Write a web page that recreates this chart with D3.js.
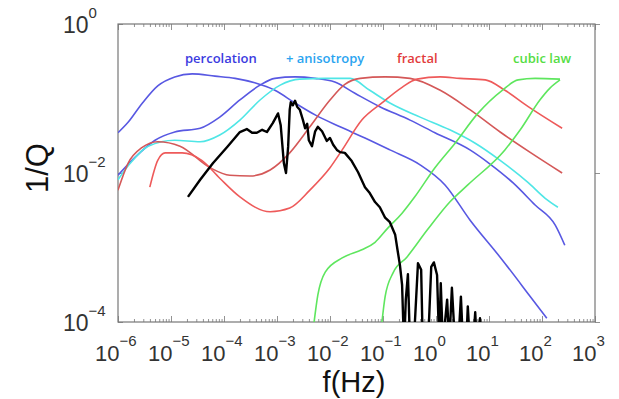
<!DOCTYPE html>
<html>
<head>
<meta charset="utf-8">
<script src="https://cdn.jsdelivr.net/npm/d3@7"></script>
<style>
  body { margin: 0; background: #fff; }
  svg { display: block; }
</style>
</head>
<body>
<div id="chart"></div>
<script>
// values as [log10 f(Hz), log10 1/Q]
const percolationEarly = [
  [-6, -1.46], [-5.81, -1.32], [-5.55, -1.07], [-5.25, -0.83], [-4.93, -0.71], [-4.6, -0.67],
  [-4.17, -0.70], [-3.79, -0.73], [-3.42, -0.79], [-3.04, -0.89], [-2.66, -1.06], [-2.28, -1.22],
  [-1.81, -1.38], [-1.34, -1.53], [-0.87, -1.69], [-0.3, -1.89], [0.17, -2.16], [0.64, -2.63],
  [1.21, -3.13], [1.77, -3.65], [2.09, -3.95]
]
const percolationLate = [
  [-6, -2.03], [-5.68, -1.79], [-5.3, -1.56], [-4.93, -1.45], [-4.45, -1.4], [-4.08, -1.25],
  [-3.7, -1.02], [-3.32, -0.82], [-3.04, -0.73], [-2.66, -0.71], [-2.28, -0.73], [-1.91, -0.78],
  [-1.53, -0.93], [-1.06, -1.11], [-0.49, -1.29], [-0.02, -1.46], [0.64, -1.69], [1.02, -1.88],
  [1.45, -2.13], [1.87, -2.43], [2.25, -2.7], [2.43, -2.97]
]
const anisotropy = [
  [-6, -2.09], [-5.77, -1.87], [-5.43, -1.64], [-4.93, -1.56], [-4.45, -1.58], [-4.08, -1.49],
  [-3.7, -1.29], [-3.32, -1.02], [-2.94, -0.82], [-2.57, -0.74], [-2.09, -0.73], [-1.62, -0.73],
  [-1.25, -0.89], [-0.87, -1.06], [-0.3, -1.25], [0.26, -1.42], [0.74, -1.6], [1.21, -1.83],
  [1.74, -2.13], [2.06, -2.34], [2.3, -2.46]
]
const fractalA = [
  [-6, -2.23], [-5.81, -1.87], [-5.55, -1.66], [-5.25, -1.58], [-4.83, -1.64], [-4.26, -1.93],
  [-3.89, -2.03], [-3.51, -2.04], [-3.13, -1.96], [-2.76, -1.73], [-2.38, -1.38], [-2.0, -1.02],
  [-1.72, -0.81], [-1.43, -0.73], [-0.96, -0.71], [-0.49, -0.73], [0.08, -0.89], [0.64, -1.15],
  [1.21, -1.45], [1.77, -1.72], [2.38, -2.0]
]
const fractalB = [
  [-5.4, -2.19], [-5.25, -1.83], [-5.11, -1.73], [-4.79, -1.73], [-4.42, -1.83], [-4.08, -2.07],
  [-3.7, -2.32], [-3.13, -2.52], [-2.76, -2.47], [-2.38, -2.23], [-2.0, -1.93], [-1.77, -1.69],
  [-1.4, -1.29], [-1.02, -1.06], [-0.64, -0.85], [-0.36, -0.74], [0.08, -0.71], [0.45, -0.73],
  [0.93, -0.75], [1.3, -0.89], [1.74, -1.11], [2.38, -1.4]
]
const cubicA = [
  [-2.3, -4.0], [-2.23, -3.64], [-2.09, -3.33], [-1.77, -3.14], [-1.4, -3.03], [-1.15, -2.93],
  [-0.91, -2.74], [-0.64, -2.54], [-0.4, -2.32], [-0.02, -1.93], [0.36, -1.6], [0.79, -1.2],
  [1.25, -0.89], [1.55, -0.75], [1.87, -0.73], [2.34, -0.74]
]
const cubicB = [
  [-1.02, -4.0], [-0.96, -3.66], [-0.81, -3.34], [-0.55, -3.13], [-0.17, -2.77], [0.26, -2.39],
  [0.6, -2.16], [1.3, -1.69], [1.59, -1.42], [1.96, -1.02], [2.15, -0.86], [2.34, -0.75]
]
const measured = [
  [-4.68, -2.32], [-4.45, -2.09], [-4.21, -1.87], [-3.94, -1.65], [-3.7, -1.45], [-3.57, -1.41],
  [-3.47, -1.46], [-3.38, -1.46], [-3.28, -1.42], [-3.19, -1.45], [-3.08, -1.33], [-2.98, -1.2],
  [-2.93, -1.36], [-2.87, -1.87], [-2.83, -2.0], [-2.79, -1.65], [-2.76, -1.15], [-2.74, -1.05],
  [-2.7, -1.09], [-2.66, -1.03], [-2.62, -1.11], [-2.57, -1.15], [-2.51, -1.29], [-2.47, -1.4],
  [-2.43, -1.34], [-2.4, -1.56], [-2.34, -1.64], [-2.28, -1.44], [-2.23, -1.38], [-2.15, -1.44],
  [-2.06, -1.57], [-2.0, -1.53], [-1.94, -1.62], [-1.87, -1.69], [-1.81, -1.72], [-1.72, -1.73],
  [-1.59, -1.84], [-1.47, -1.99], [-1.34, -2.19], [-1.25, -2.27], [-1.15, -2.39], [-1.06, -2.46],
  [-0.96, -2.6], [-0.87, -2.66], [-0.77, -2.83], [-0.72, -3.06], [-0.68, -3.24], [-0.64, -3.5],
  [-0.62, -3.95], [-0.6, -4.3], [-0.57, -3.7], [-0.53, -3.36], [-0.49, -4.3], [-0.42, -4.3],
  [-0.34, -3.21], [-0.28, -3.3], [-0.25, -4.3], [-0.15, -4.3], [-0.09, -3.26], [-0.04, -3.2],
  [0.02, -3.37], [0.06, -4.3], [0.09, -3.48], [0.13, -4.3], [0.21, -3.7], [0.25, -4.3],
  [0.3, -3.54], [0.36, -4.3], [0.42, -4.3], [0.47, -3.66], [0.51, -4.3], [0.57, -4.3],
  [0.6, -3.79], [0.64, -4.3], [0.7, -4.3], [0.74, -3.87], [0.77, -4.3], [0.83, -3.95], [0.87, -4.3]
]

const xDecades = [-6, -5, -4, -3, -2, -1, 0, 1, 2, 3]
const yDecades = [-4, -2, 0]
const legendNames = ['percolation', '+ anisotropy', 'fractal', 'cubic law']

const width = 619
const height = 399
const margin = { top: 24, right: 24, bottom: 77, left: 118 }
const innerW = width - margin.left - margin.right
const innerH = height - margin.top - margin.bottom

const x = d3.scaleLog().domain([1e-6, 1e3]).range([0, innerW])
const y = d3.scaleLog().domain([1e-4, 1]).range([innerH, 0])

const svg = d3.select('#chart').append('svg')
  .attr('width', width)
  .attr('height', height)
  .style('font-family', '"Liberation Sans", Arial, sans-serif')

svg.append('defs').append('clipPath').attr('id', 'plot-clip')
  .append('rect').attr('width', innerW).attr('height', innerH)

const chart = svg.append('g').attr('transform', `translate(${margin.left},${margin.top})`)

// ticks: decades plus 2..9 minors
const minorTicks = []
xDecades.slice(0, -1).forEach(e => {
  for (let m = 2; m <= 9; m++) minorTicks.push(m * 10 ** e)
})
const majorTicks = xDecades.map(e => 10 ** e)

const tickGroup = (axis, t) => {
  const g = chart.append('g').attr('transform', t).call(axis)
  g.select('.domain').remove()
  g.selectAll('line').attr('stroke', '#777').attr('stroke-width', 0.8)
  return g
}
tickGroup(d3.axisBottom(x).tickValues(minorTicks).tickSize(-3).tickFormat(''), `translate(0,${innerH})`)
tickGroup(d3.axisBottom(x).tickValues(majorTicks).tickSize(-6).tickFormat(''), `translate(0,${innerH})`)
tickGroup(d3.axisTop(x).tickValues(minorTicks).tickSize(-3).tickFormat(''), 'translate(0,0)')
tickGroup(d3.axisTop(x).tickValues(majorTicks).tickSize(-6).tickFormat(''), 'translate(0,0)')
tickGroup(d3.axisRight(y).tickValues(yDecades.map(e => 10 ** e)).tickSize(5).tickFormat(''), `translate(${innerW},0)`)
tickGroup(d3.axisLeft(y).tickValues(yDecades.map(e => 10 ** e)).tickSize(-5).tickFormat(''), 'translate(0,0)')

chart.append('rect')
  .attr('width', innerW)
  .attr('height', innerH)
  .attr('fill', 'none')
  .attr('stroke', '#777')
  .attr('stroke-width', 1.2)

const powerLabel = (sel, e) => {
  sel.append('tspan').text('10')
  sel.append('tspan')
    .attr('font-size', 15)
    .attr('dy', -15)
    .text(e < 0 ? '\u2212' + Math.abs(e) : String(e))
}

xDecades.forEach(e => {
  chart.append('text')
    .attr('x', x(10 ** e) - 23)
    .attr('y', innerH + 39)
    .attr('font-size', 22)
    .attr('fill', '#333')
    .call(powerLabel, e)
})

yDecades.forEach(e => {
  chart.append('text')
    .attr('x', -55)
    .attr('y', y(10 ** e) + 9)
    .attr('font-size', 23)
    .attr('fill', '#333')
    .call(powerLabel, e)
})

chart.append('text')
  .attr('transform', `translate(-70,${innerH / 2 - 5}) rotate(-90)`)
  .attr('text-anchor', 'middle')
  .attr('font-size', 31)
  .attr('fill', '#111')
  .text('1/Q')

chart.append('text')
  .attr('x', 236)
  .attr('y', innerH + 70)
  .attr('text-anchor', 'middle')
  .attr('font-size', 29)
  .attr('fill', '#111')
  .text('f(Hz)')

const smooth = d3.line()
  .x(d => x(10 ** d[0]))
  .y(d => y(10 ** d[1]))
  .curve(d3.curveMonotoneX)

const jagged = d3.line()
  .x(d => x(10 ** d[0]))
  .y(d => y(10 ** d[1]))

const curves = [
  { data: percolationEarly, color: '#5858e2' },
  { data: percolationLate, color: '#5858e2' },
  { data: anisotropy, color: '#4fe6e6' },
  { data: fractalA, color: '#d45858' },
  { data: fractalB, color: '#ee5a5a' },
  { data: cubicA, color: '#5ee65e' },
  { data: cubicB, color: '#5ee65e' }
]

const lines = chart.append('g').attr('clip-path', 'url(#plot-clip)')

curves.forEach(c => {
  lines.append('path')
    .datum(c.data)
    .attr('d', smooth)
    .attr('fill', 'none')
    .attr('stroke', c.color)
    .attr('stroke-width', 1.6)
})

lines.append('path')
  .datum(measured)
  .attr('d', jagged)
  .attr('fill', 'none')
  .attr('stroke', '#000')
  .attr('stroke-width', 2.4)
  .attr('stroke-linejoin', 'round')

const legendColors = ['#3b3be0', '#2aa4f0', '#e23c3c', '#55dd44']
const legendX = [67, 168, 279, 395]
legendNames.forEach((name, i) => {
  chart.append('text')
    .attr('x', legendX[i])
    .attr('y', 39)
    .attr('font-family', '"Open Sans", sans-serif')
    .attr('font-weight', 600)
    .attr('font-size', 13)
    .attr('fill', legendColors[i])
    .text(name)
})
</script>
</body>
</html>
